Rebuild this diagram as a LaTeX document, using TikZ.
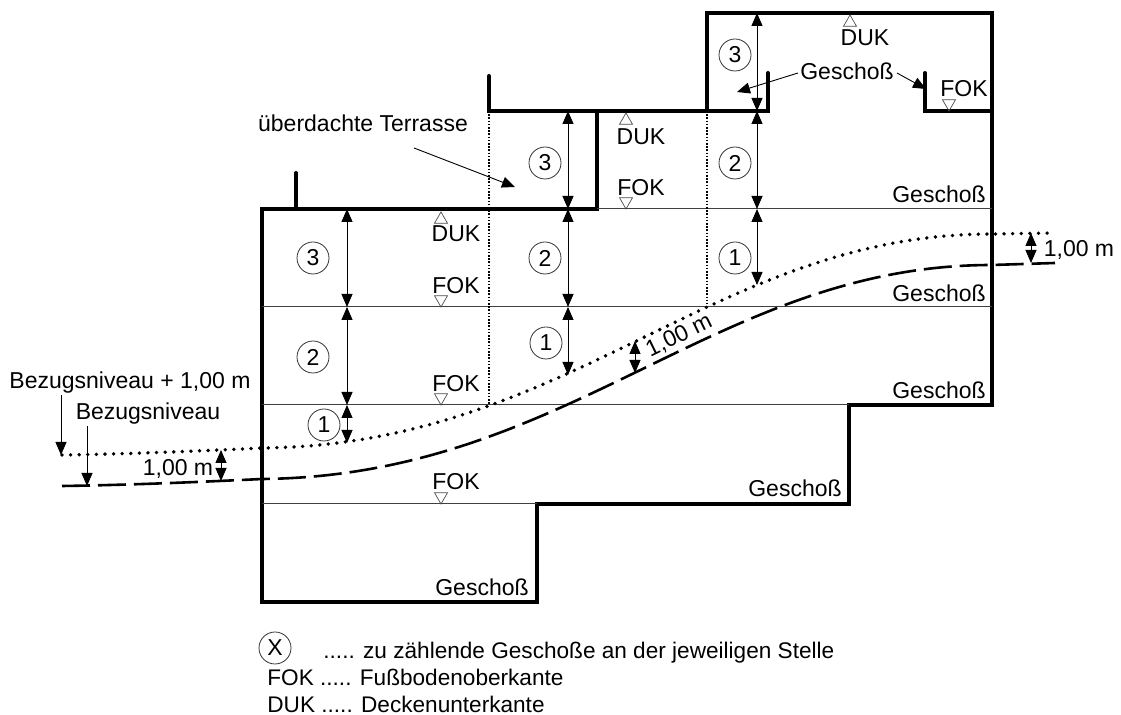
\documentclass[tikz,border=0pt]{standalone}
\usepackage{fontspec}
\setmainfont{Liberation Sans}
\usetikzlibrary{shapes,arrows.meta,positioning}

\begin{document}
\begin{tikzpicture}[x=0.5pt,y=-0.5pt]
			\tikzstyle{Wall}	= [line width=2pt, line join=miter, line cap=round, black]
			\tikzstyle{Floor}	= [line width=0.5pt, black!75]
			\tikzstyle{Cut}		= [line width=0.6pt, dash pattern=on 0.8pt off 0.8pt, black]
			\tikzstyle{Lifted}	= [line width=1.9pt, line cap=round, dash pattern=on 0pt off 4.3pt, black]
			\tikzstyle{Ground}	= [line width=1.3pt, dash pattern=on 14pt off 4pt, black]
			\tikzstyle{Dim}		= [line width=0.45pt, black, {Triangle[length=6.5pt,width=5.5pt]}-{Triangle[length=6.5pt,width=5.5pt]}]
			\tikzstyle{Lead}	= [line width=0.45pt, black, -{Triangle[length=6.5pt,width=5.5pt]}]
			\tikzstyle{Count}	= [circle, draw=black!80, line width=0.4pt, minimum size=16pt, inner sep=0pt, font=\fontsize{11.5}{13}\selectfont]
			\tikzstyle{Txt}		= [inner sep=0pt, anchor=base, yshift=-0.5pt, font=\fontsize{11.5}{13}\selectfont]
			\tikzstyle{Key}		= [inner sep=0pt, anchor=base west, font=\fontsize{11.3}{13}\selectfont]
			\tikzstyle{Up}		= [regular polygon, regular polygon sides=3, draw=black!70, line width=0.35pt, minimum size=7.5pt, inner sep=0pt, outer sep=0pt]
			\tikzstyle{Down}	= [Up, shape border rotate=180]

			\useasboundingbox (0,0) rectangle (1121,715);

			% walls
			\coordinate (w0) at (262,602);
			\coordinate (w1) at (262,209);
			\coordinate (w2) at (597,209);
			\coordinate (w3) at (597,111);
			\coordinate (w4) at (489,111);
			\coordinate (w5) at (489,76);
			\coordinate (w6) at (296,173);
			\coordinate (w7) at (296,209);
			\coordinate (w8) at (768,111);
			\coordinate (w9) at (768,73);
			\coordinate (w10) at (707,111);
			\coordinate (w11) at (707,13);
			\coordinate (w12) at (992,13);
			\coordinate (w13) at (992,405);
			\coordinate (w14) at (849,405);
			\coordinate (w15) at (849,504);
			\coordinate (w16) at (537,504);
			\coordinate (w17) at (537,602);
			\coordinate (w18) at (925,73);
			\coordinate (w19) at (925,111);
			\coordinate (w20) at (992,111);
			\draw [-] (w5) -- (w4) -- (w8) -- (w9) [Wall];
			\draw [-] (w4) -- (w3) -- (w2) -- (w1) -- (w0) -- (w17) -- (w16) -- (w15) -- (w14) -- (w13) -- (w12) -- (w11) -- (w10) [Wall];
			\draw [-] (w6) to (w7) [Wall];
			\draw [-] (w18) -- (w19) -- (w20) [Wall];

			% floors
			\coordinate (f0) at (992,209);
			\coordinate (f1) at (262,307);
			\coordinate (f2) at (992,307);
			\coordinate (f3) at (262,405);
			\coordinate (f4) at (262,504);
			\draw [-] (w2) to (f0) [Floor];
			\draw [-] (f1) to (f2) [Floor];
			\draw [-] (f3) to (w14) [Floor];
			\draw [-] (f4) to (w16) [Floor];

			% cuts
			\coordinate (c0) at (489,405);
			\coordinate (c1) at (707,304);
			\draw [-] (w4) to (c0) [Cut];
			\draw [-] (w10) to (c1) [Cut];

			% terrain
			\coordinate (t0) at (62,455);
			\coordinate (t1) at (262,448);
			\coordinate (t2) at (992,234);
			\coordinate (t3) at (1055,233);
			\coordinate (g0) at (62,486);
			\coordinate (g1) at (262,479);
			\coordinate (g2) at (992,265);
			\coordinate (g3) at (1055,263);
			\draw (t0) .. controls (130,454) and (200,451) .. (t1) .. controls (570,445) and (715,234) .. (t2) -- (t3) [Lifted];
			\draw (g0) .. controls (130,485) and (200,482) .. (g1) .. controls (570,476) and (715,265) .. (g2) -- (g3) [Ground];

			% storey heights
			\coordinate (a0) at (347,209);
			\coordinate (a1) at (347,307);
			\coordinate (a2) at (347,405);
			\coordinate (a3) at (347,443);
			\coordinate (b0) at (568,111);
			\coordinate (b1) at (568,209);
			\coordinate (b2) at (568,307);
			\coordinate (b3) at (568,375);
			\coordinate (d0) at (757,13);
			\coordinate (d1) at (757,111);
			\coordinate (d2) at (757,209);
			\coordinate (d3) at (757,285);
			\draw [Dim] (a0) to (a1);
			\draw [Dim] (a1) to (a2);
			\draw [Dim] (a2) to (a3);
			\draw [Dim] (b0) to (b1);
			\draw [Dim] (b1) to (b2);
			\draw [Dim] (b2) to (b3);
			\draw [Dim] (d0) to (d1);
			\draw [Dim] (d1) to (d2);
			\draw [Dim] (d2) to (d3);

			\node (n3a) at (313,258) [Count] {3};
			\node (n2a) at (313,357) [Count] {2};
			\node (n1a) at (324,425) [Count] {1};
			\node (n3b) at (545,163) [Count] {3};
			\node (n2b) at (545,258) [Count] {2};
			\node (n1b) at (546,343) [Count] {1};
			\node (n3c) at (735,55) [Count] {3};
			\node (n2c) at (735,163) [Count] {2};
			\node (n1c) at (735,258) [Count] {1};

			% level marks
			\node (u0) at (441,219.5) [Up] {};
			\node (u1) at (626,120.5) [Up] {};
			\node (u2) at (850,22.5) [Up] {};
			\node (v0) at (441,299.5) [Down] {};
			\node (v1) at (441,397.5) [Down] {};
			\node (v2) at (441,496.5) [Down] {};
			\node (v3) at (626,201.5) [Down] {};
			\node (v4) at (949,103.5) [Down] {};

			\node (duk0) at (456,241) [Txt] {DUK};
			\node (duk1) at (641,144) [Txt] {DUK};
			\node (duk2) at (865,45) [Txt] {DUK};
			\node (fok0) at (456,293) [Txt] {FOK};
			\node (fok1) at (456,391) [Txt] {FOK};
			\node (fok2) at (456,489) [Txt] {FOK};
			\node (fok3) at (641,195) [Txt] {FOK};
			\node (fok4) at (964,96) [Txt] {FOK};

			\node (ges0) at (847,79) [Txt] {Geschoß};
			\node (ges1) at (939,202) [Txt] {Geschoß};
			\node (ges2) at (939,301) [Txt] {Geschoß};
			\node (ges3) at (939,398) [Txt] {Geschoß};
			\node (ges4) at (795,496) [Txt] {Geschoß};
			\node (ges5) at (482,595) [Txt] {Geschoß};

			% leaders
			\coordinate (l0) at (798,73);
			\coordinate (l1) at (737,92);
			\coordinate (l2) at (897,73);
			\coordinate (l3) at (926,89);
			\coordinate (l4) at (414,148);
			\coordinate (l5) at (515,187);
			\draw [Lead] (l0) to (l1);
			\draw [Lead] (l2) to (l3);
			\draw [Lead] (l4) to (l5);
			\node (terr) at (363,131) [Txt] {überdachte Terrasse};

			% reference levels
			\node (bez1) at (130,388) [Txt] {Bezugsniveau + 1,00 m};
			\node (bez0) at (148,419) [Txt] {Bezugsniveau};
			\coordinate (l6) at (61,395);
			\coordinate (l7) at (61,455);
			\coordinate (l8) at (87,426);
			\coordinate (l9) at (87,486);
			\draw [Lead] (l6) to (l7);
			\draw [Lead] (l8) to (l9);

			% one metre offsets
			\coordinate (e0) at (221,450);
			\coordinate (e1) at (221,481);
			\coordinate (e2) at (635,341);
			\coordinate (e3) at (635,373);
			\coordinate (e4) at (1031,233);
			\coordinate (e5) at (1031,263);
			\draw [Dim] (e0) to (e1);
			\draw [Dim] (e2) to (e3);
			\draw [Dim] (e4) to (e5);
			\node (m0) at (178,475) [Txt] {1,00 m};
			\node (m1) at (682,341) [Txt, rotate=26] {1,00 m};
			\node (m2) at (1079,256) [Txt] {1,00 m};

			% legend
			\node (x0) at (275,648) [Count] {X};
			\node (k0) at (323,659) [Key] {..... zu zählende Geschoße an der jeweiligen Stelle};
			\node (k1) at (267,686) [Key] {FOK ..... Fußbodenoberkante};
			\node (k2) at (267,713) [Key] {DUK ..... Deckenunterkante};
		\end{tikzpicture}
\end{document}
